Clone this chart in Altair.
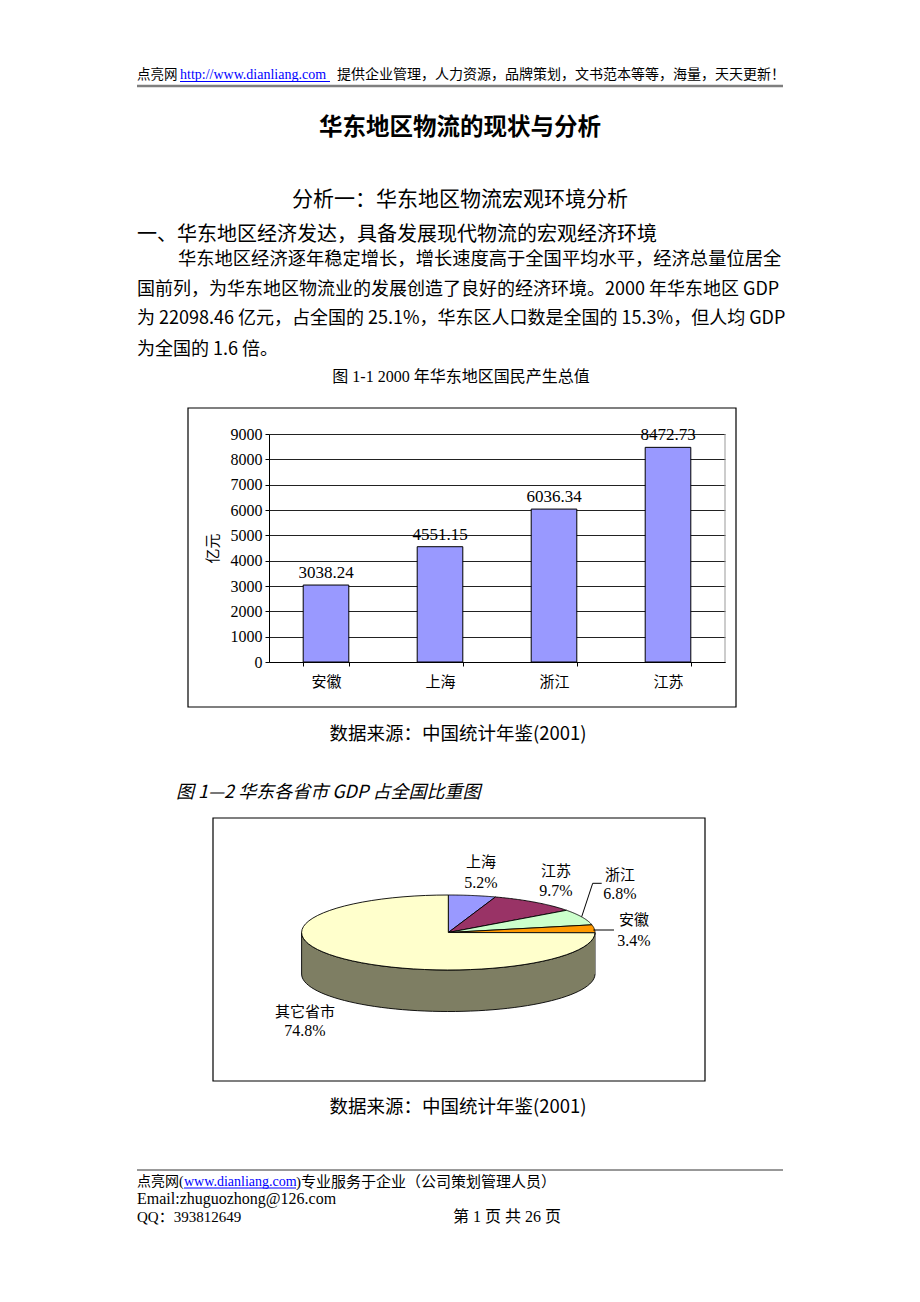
import altair as alt
import pandas as pd

# ---------------- data ----------------
bar_regions = ["安徽", "上海", "浙江", "江苏"]
bar_gdp = [3038.24, 4551.15, 6036.34, 8472.73]
y_ticks = [0, 1000, 2000, 3000, 4000, 5000, 6000, 7000, 8000, 9000]

pie_names = ["上海", "江苏", "浙江", "安徽", "其它省市"]
pie_shares = [5.2, 9.7, 6.8, 3.4, 74.8]
pie_top_colors = ["#9999FF", "#993366", "#CCFFCC", "#FF9900", "#FFFFCC"]
pie_side_colors = ["#5C5C99", "#5C1F3D", "#7A997A", "#995C00", "#7E7E63"]

header_site = "点亮网"
header_url = "http://www.dianliang.com"
header_rest = "提供企业管理，人力资源，品牌策划，文书范本等等，海量，天天更新！"
page_title = "华东地区物流的现状与分析"
sub_title = "分析一：华东地区物流宏观环境分析"
heading = "一、华东地区经济发达，具备发展现代物流的宏观经济环境"
para_lines = [
    "华东地区经济逐年稳定增长，增长速度高于全国平均水平，经济总量位居全",
    "国前列，为华东地区物流业的发展创造了良好的经济环境。2000 年华东地区 GDP",
    "为 22098.46 亿元，占全国的 25.1%，华东区人口数是全国的 15.3%，但人均 GDP",
    "为全国的 1.6 倍。",
]
fig1_caption = "图 1-1 2000 年华东地区国民产生总值"
source_note = "数据来源：中国统计年鉴(2001)"
fig2_caption = "图 1—2 华东各省市 GDP 占全国比重图"
footer_site = "点亮网("
footer_url = "www.dianliang.com"
footer_rest = ")专业服务于企业（公司策划管理人员）"
footer_email = "Email:zhuguozhong@126.com"
footer_qq = "QQ：393812649"
footer_page = "第 1 页 共 26 页"

# ---------------- layout / style ----------------
W, TOP_H, BOT_H = 920, 760, 542
CJK = "Noto Sans CJK SC"
SERIF = "Liberation Serif, Noto Sans CJK SC"
N = 60           # arc resolution of the pie outline
DEPTH = 1.107    # pie thickness in units of the vertical radius

dummy = pd.DataFrame({"k": [0]})


def txt(s, x, y, size, font=CJK, align="left", weight="normal", color="black", style="normal"):
    return alt.Chart(dummy).mark_text(
        text=s, font=font, fontSize=size, align=align, baseline="middle",
        fontWeight=weight, color=color, fontStyle=style,
    ).encode(x=alt.value(x), y=alt.value(y))


def hrule(x1, x2, y, color="black", width=1.0):
    return alt.Chart(dummy).mark_rule(color=color, strokeWidth=width).encode(
        x=alt.value(x1), x2=alt.value(x2), y=alt.value(y)
    )


def seg(x1, y1, x2, y2, color="black", width=1.0):
    return alt.Chart(dummy).mark_rule(color=color, strokeWidth=width).encode(
        x=alt.value(x1), x2=alt.value(x2), y=alt.value(y1), y2=alt.value(y2)
    )


def frame(x1, y1, x2, y2):
    return alt.Chart(dummy).mark_rect(fill="white", fillOpacity=0, stroke="black", strokeWidth=1.2).encode(
        x=alt.value(x1), x2=alt.value(x2), y=alt.value(y1), y2=alt.value(y2)
    )


# ---------------- top half: text + bar chart ----------------
bar_df = pd.DataFrame({"region": bar_regions, "gdp": bar_gdp})

x_enc = alt.X(
    "region:N", sort=bar_regions,
    scale=alt.Scale(domain=bar_regions, range=[269, 725], paddingInner=0.6, paddingOuter=0.3),
    axis=alt.Axis(
        title=None, orient="bottom", offset=-(TOP_H - 662), labelAngle=0,
        domainColor="black", domainWidth=1, tickColor="black", tickSize=4, tickBand="extent",
        labelFont=CJK, labelFontSize=15, labelColor="black", labelPadding=8, grid=False,
    ),
)
y_enc = alt.Y(
    "gdp:Q",
    scale=alt.Scale(domain=[0, 9000], range=[662, 434], nice=False, zero=True),
    axis=alt.Axis(
        title="亿元", orient="left", offset=-269, values=y_ticks, format="d", grid=True,
        gridColor="#222222", gridWidth=1, domainColor="black", domainWidth=1,
        tickColor="black", tickSize=4, labelFont="Liberation Serif", labelFontSize=16,
        labelColor="black", labelPadding=3, titleFont=CJK, titleFontSize=15,
        titleFontWeight="normal", titleColor="black", titlePadding=10,
    ),
)

bars = alt.Chart(bar_df).mark_bar(color="#9999FF", stroke="black", strokeWidth=1).encode(
    x=x_enc, y=y_enc
)
bar_labels = alt.Chart(bar_df).mark_text(
    font="Liberation Serif", fontSize=17, baseline="alphabetic", dy=-7, color="black"
).encode(x=x_enc, y=y_enc, text=alt.Text("gdp:Q", format=".2f"))

plot_border = seg(725, 434, 725, 662, color="#999999", width=1)

top_layers = [
    frame(188, 408, 736, 707),
    plot_border,
    bars,
    bar_labels,
    txt(header_site, 137, 75, 13.5),
    txt(header_url, 180, 75, 14, font="Liberation Serif", color="#0000FF"),
    hrule(180, 330, 81.5, color="#0000FF", width=1),
    txt(header_rest, 337, 75, 14),
    hrule(137, 783, 86, color="#7F7F7F", width=2.5),
    txt(page_title, 460, 128, 23.5, align="center", weight="bold"),
    txt(sub_title, 460, 200, 21, align="center"),
    txt(heading, 137, 235, 20),
    txt(para_lines[0], 178, 260, 18.3),
    txt(para_lines[1], 137, 290, 18),
    txt(para_lines[2], 137, 319, 18),
    txt(para_lines[3], 137, 350, 18),
    txt(fig1_caption, 461, 377, 16, font=SERIF, align="center"),
    txt(source_note, 458, 734, 18.5, align="center"),
]
top = alt.layer(*top_layers).properties(width=W, height=TOP_H)

# ---------------- bottom half: 3D-look pie ----------------
pie_df = pd.DataFrame({"name": pie_names, "share": pie_shares, "idx": list(range(len(pie_names)))})
OFF = TOP_H
cx_l, cx_r = 301.6, 595.0
cy, ry = 932.5 - OFF, 37.5
px_scale = alt.Scale(domain=[-1, 1], range=[cx_l, cx_r], zero=False, nice=False)
py_scale = alt.Scale(domain=[-1, 1], range=[cy + ry, cy - ry], zero=False, nice=False)

pie_base = alt.Chart(pie_df).transform_window(
    cum="sum(share)", sort=[alt.SortField("idx")], frame=[None, 0]
).transform_joinaggregate(total="sum(share)").transform_calculate(
    a0="2*PI*(datum.cum - datum.share)/datum.total",
    a1="2*PI*datum.cum/datum.total",
)

side = pie_base.transform_calculate(
    s0="max(datum.a0, PI/2)",
    s1="min(datum.a1, 3*PI/2)",
).transform_filter("datum.s1 > datum.s0").transform_calculate(
    k=f"sequence(0, {2 * N + 2})"
).transform_flatten(["k"]).transform_calculate(
    j=f"datum.k <= {N} ? datum.k : {2 * N + 1} - datum.k",
).transform_calculate(
    t=f"datum.s0 + (datum.s1 - datum.s0) * datum.j / {N}",
).transform_calculate(
    px="sin(datum.t)",
    py=f"cos(datum.t) - (datum.k <= {N} ? 0 : {DEPTH})",
).mark_line(stroke="black", strokeWidth=0.9, strokeJoin="round").encode(
    x=alt.X("px:Q", scale=px_scale, axis=None),
    y=alt.Y("py:Q", scale=py_scale, axis=None),
    order="k:Q",
    detail="name:N",
    fill=alt.Fill("name:N", scale=alt.Scale(domain=pie_names, range=pie_side_colors), legend=None),
)

top_face = pie_base.transform_calculate(
    k=f"sequence(0, {N + 3})"
).transform_flatten(["k"]).transform_calculate(
    t=f"datum.a0 + (datum.a1 - datum.a0) * clamp(datum.k - 1, 0, {N}) / {N}",
    c=f"datum.k == 0 || datum.k == {N + 2}",
).transform_calculate(
    px="datum.c ? 0 : sin(datum.t)",
    py="datum.c ? 0 : cos(datum.t)",
).mark_line(stroke="black", strokeWidth=0.9, strokeJoin="round").encode(
    x=alt.X("px:Q", scale=px_scale, axis=None),
    y=alt.Y("py:Q", scale=py_scale, axis=None),
    order="k:Q",
    detail="name:N",
    fill=alt.Fill("name:N", scale=alt.Scale(domain=pie_names, range=pie_top_colors), legend=None),
)

# label placement (layout only): centre x, y of the name line, y of the percentage line
label_pos = {
    "上海": (481, 862, 883),
    "江苏": (556, 871, 891),
    "浙江": (620, 875, 894),
    "安徽": (634, 920, 941),
    "其它省市": (305, 1012, 1031),
}
pie_labels = []
for name, share in zip(pie_names, pie_shares):
    lx, ly1, ly2 = label_pos[name]
    pie_labels.append(txt(name, lx, ly1 - OFF, 15, align="center"))
    pie_labels.append(txt(f"{share}%", lx, ly2 - OFF, 16, font="Liberation Serif", align="center"))

leaders = [
    seg(581.7, 916.7 - OFF, 592.7, 883.3 - OFF),
    seg(592.7, 883.3 - OFF, 601.7, 883.3 - OFF),
    seg(593.3, 930 - OFF, 614, 930 - OFF),
]

bottom_layers = [
    frame(213, 818 - OFF, 705, 1081 - OFF),
    side,
    top_face,
    *leaders,
    *pie_labels,
    txt(fig2_caption, 176, 793 - OFF, 18, style="italic"),
    txt(source_note, 458, 1107 - OFF, 18.5, align="center"),
    hrule(137, 783, 1170 - OFF, color="#333333", width=1),
    txt(footer_site, 137, 1182 - OFF, 14, font=SERIF),
    txt(footer_url, 184, 1182 - OFF, 14, font="Liberation Serif", color="#0000FF"),
    hrule(184, 296, 1188 - OFF, color="#0000FF", width=1),
    txt(footer_rest, 296, 1182 - OFF, 15, font=SERIF),
    txt(footer_email, 137, 1199 - OFF, 16, font=SERIF),
    txt(footer_qq, 137, 1217 - OFF, 15, font=SERIF),
    txt(footer_page, 453, 1217 - OFF, 16, font=SERIF),
]
bottom = alt.layer(*bottom_layers).properties(width=W, height=BOT_H).resolve_scale(fill="independent")

chart = alt.vconcat(top, bottom, spacing=0).properties(
    padding=0, background="white"
).configure_view(strokeWidth=0)

chart.save("out.html", embed_options={"renderer": "svg", "actions": False})
